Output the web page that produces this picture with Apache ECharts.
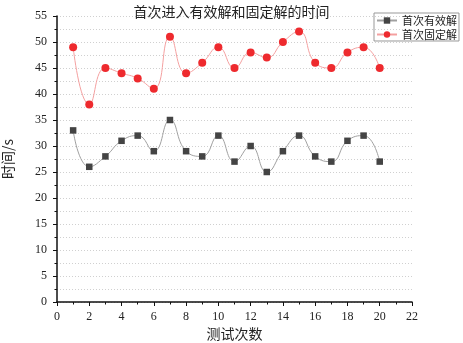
<!DOCTYPE html>
<html>
<head>
<meta charset="utf-8">
<script src="https://cdn.jsdelivr.net/npm/echarts@6/dist/echarts.min.js"></script>
<style>html,body{margin:0;padding:0;background:#fff}#c{width:463px;height:343px}</style>
</head>
<body>
<div id="c"></div>
<script>
const trials = [1,2,3,4,5,6,7,8,9,10,11,12,13,14,15,16,17,18,19,20];
const validTimes = [33,26,28,31,32,29,35,29,28,32,27,30,25,29,32,28,27,31,32,27];
const fixedTimes = [49,38,45,44,43,41,51,44,46,49,45,48,47,50,52,46,45,48,49,45];
const seriesNames = ['首次有效解','首次固定解'];

const serif = 'Liberation Serif, DejaVu Serif, serif';
const cjk = 'Noto Sans CJK SC, serif';
const chart = echarts.init(document.getElementById('c'));
const gridLine = {show:true, lineStyle:{color:'#d0d0d0', type:[1,2], width:1}};
chart.setOption({
  animation:false,
  title:{text:'首次进入有效解和固定解的时间', left:'center', top:0,
    textStyle:{fontFamily:cjk, fontSize:14, fontWeight:'normal', color:'#222'}},
  legend:{left:374, top:13, orient:'vertical', itemWidth:20, itemHeight:8, itemGap:3,
    padding:[2,2,1,2], borderColor:'#999', borderWidth:1,
    textStyle:{fontFamily:cjk, fontSize:11, color:'#222'}, data:seriesNames},
  grid:{left:57, right:51, top:16, bottom:41, containLabel:false, outerBoundsMode:'none'},
  xAxis:{type:'value', min:0, max:22, interval:2,
    name:'测试次数', nameLocation:'middle', nameGap:25, nameMoveOverlap:false,
    nameTextStyle:{fontFamily:cjk, fontSize:14, color:'#222'},
    axisLine:{show:true, onZero:false, lineStyle:{color:'#111', width:1.5}},
    axisTick:{show:true, inside:false, length:4, lineStyle:{color:'#111'}},
    minorTick:{show:true, splitNumber:2, length:2.5, lineStyle:{color:'#111'}},
    axisLabel:{fontFamily:serif, fontSize:12, color:'#222', margin:9},
    splitLine:{show:false}},
  yAxis:{type:'value', min:0, max:55, interval:5,
    name:'时间/s', nameLocation:'middle', nameGap:42, nameMoveOverlap:false,
    nameTextStyle:{fontFamily:cjk, fontSize:14, color:'#222'},
    axisLine:{show:true, lineStyle:{color:'#111', width:1.5}},
    axisTick:{show:true, length:4, lineStyle:{color:'#111'}},
    minorTick:{show:true, splitNumber:2, length:2.5, lineStyle:{color:'#111'}},
    axisLabel:{fontFamily:serif, fontSize:12, color:'#222', margin:10},
    splitLine:gridLine, minorSplitLine:gridLine},
  series:[
    {name:seriesNames[0], type:'line', smooth:0.5, symbol:'rect', symbolSize:6.5,
      data:trials.map((t,i)=>[t,validTimes[i]]),
      itemStyle:{color:'#444'}, lineStyle:{color:'#a0a0a0', width:1}},
    {name:seriesNames[1], type:'line', smooth:0.5, symbol:'circle', symbolSize:8,
      data:trials.map((t,i)=>[t,fixedTimes[i]]),
      itemStyle:{color:'#ee2a2e'}, lineStyle:{color:'#f4a0a0', width:1}}
  ]
});
</script>
</body>
</html>
